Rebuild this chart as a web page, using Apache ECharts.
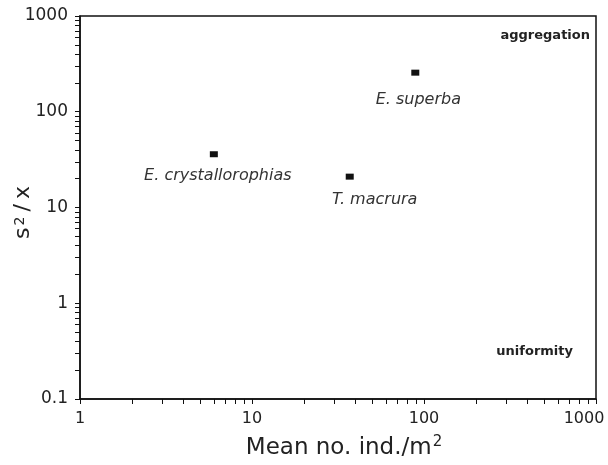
<!DOCTYPE html>
<html>
<head>
<meta charset="utf-8">
<script src="https://cdn.jsdelivr.net/npm/echarts@6/dist/echarts.min.js"></script>
<style>
  html, body { margin: 0; padding: 0; background: #fff; }
  #chart { width: 608px; height: 465px; }
</style>
</head>
<body>
<div id="chart"></div>
<script>
// Variance-to-mean ratio against mean density for three krill species
const species = ['E. superba', 'T. macrura', 'E. crystallorophias'];
const meanDensity = [89, 37, 6.0];        // mean no. ind./m2
const varianceToMean = [256, 21, 36];     // s2/x
const xTickLabels = [1, 10, 100, 1000];
const yTickLabels = [0.1, 1, 10, 100, 1000];
const regionNotes = ['aggregation', 'uniformity'];

const FONT = 'DejaVu Sans';
const INK = '#111';
const TEXT = '#222';

// label placement relative to each marker (pixels)
const labelOffsets = {
  'E. superba': [3, 27],
  'T. macrura': [25, 23],
  'E. crystallorophias': [4, 22]
};

// decade ticks plus the 2..9 minor ticks between them
function logTicks(decades) {
  const out = [];
  for (let i = 0; i < decades.length - 1; i++) {
    for (let m = 1; m < 10; m++) out.push(+(decades[i] * m).toPrecision(6));
  }
  out.push(decades[decades.length - 1]);
  return out;
}

const fmt = v => String(+(+v).toPrecision(6));
const xMax = xTickLabels[xTickLabels.length - 1];
// the last x label is pulled inward so it stays on the page
const fmtX = v => (+v >= xMax ? '{last|' + fmt(v) + '}' : fmt(v));

const chart = echarts.init(document.getElementById('chart'), null, { renderer: 'canvas' });

chart.setOption({
  animation: false,
  backgroundColor: '#fff',
  grid: {
    left: 80, right: 12, top: 16, bottom: 66,
    containLabel: false,
    outerBoundsMode: 'none',
    show: true, borderColor: INK, borderWidth: 1.5, backgroundColor: 'transparent'
  },
  xAxis: {
    type: 'log', logBase: 10, min: 1, max: xMax,
    axisLine: { show: true, lineStyle: { color: INK, width: 1.5 } },
    axisTick: { show: true, inside: false, length: 5, lineStyle: { color: INK, width: 1 },
                customValues: logTicks(xTickLabels) },
    axisLabel: {
      customValues: xTickLabels, formatter: fmtX, margin: 12,
      fontFamily: FONT, fontSize: 16, color: TEXT,
      rich: { last: { fontFamily: FONT, fontSize: 16, color: TEXT, padding: [0, 24, 0, 0] } }
    },
    splitLine: { show: false },
    name: 'Mean no. ind./m{sup|2}',
    nameLocation: 'middle',
    nameGap: 36,
    nameMoveOverlap: false,
    nameTextStyle: {
      fontFamily: FONT, fontSize: 23, color: TEXT, verticalAlign: 'top',
      padding: [0, 0, 0, 12],
      rich: { sup: { fontFamily: FONT, fontSize: 15, color: TEXT, padding: [0, 0, 11, 1] } }
    }
  },
  yAxis: {
    type: 'log', logBase: 10, min: 0.1, max: 1000,
    axisLine: { show: true, lineStyle: { color: INK, width: 1.5 } },
    axisTick: { show: true, inside: false, length: 5, lineStyle: { color: INK, width: 1 },
                customValues: logTicks(yTickLabels) },
    axisLabel: { customValues: yTickLabels, formatter: fmt, margin: 12,
                 fontFamily: FONT, fontSize: 17, color: TEXT },
    splitLine: { show: false },
    name: '{b|s}{sup|2}{sl|/}{end|x}',
    nameLocation: 'middle',
    nameGap: 46,
    nameMoveOverlap: false,
    nameTextStyle: {
      fontFamily: FONT, fontSize: 22, color: TEXT,
      rich: {
        b: { fontFamily: FONT, fontSize: 22, color: TEXT },
        sup: { fontFamily: FONT, fontSize: 14, color: TEXT, padding: [0, 4, 6, 2] },
        sl: { fontFamily: FONT, fontSize: 22, color: TEXT, padding: [0, 5, 0, 1] },
        end: { fontFamily: FONT, fontSize: 22, color: TEXT, padding: [0, 10, 0, 0] }
      }
    }
  },
  series: [{
    type: 'scatter',
    symbol: 'rect',
    symbolSize: [8, 6],
    itemStyle: { color: INK, opacity: 1 },
    data: species.map((name, i) => ({
      name: name,
      value: [meanDensity[i], varianceToMean[i]],
      label: { offset: labelOffsets[name] }
    })),
    label: {
      show: true,
      formatter: '{b}',
      position: 'inside',
      align: 'center',
      verticalAlign: 'middle',
      fontFamily: FONT,
      fontStyle: 'italic',
      fontSize: 16,
      color: '#333'
    },
    emphasis: { disabled: true }
  }],
  graphic: [
    { type: 'text', right: 18, top: 29,
      style: { text: regionNotes[0], font: 'bold 13px "DejaVu Sans"', fill: TEXT } },
    { type: 'text', right: 35, top: 345,
      style: { text: regionNotes[1], font: 'bold 13px "DejaVu Sans"', fill: TEXT } }
  ]
});
</script>
</body>
</html>
